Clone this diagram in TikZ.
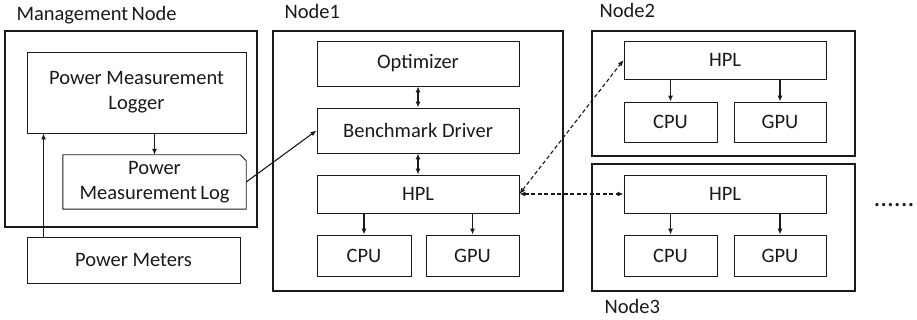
\documentclass[tikz,border=0pt]{standalone}
\usepackage{fontspec}
\setmainfont{Carlito}
\usepackage{tikz}
\usetikzlibrary{arrows.meta, calc, positioning}
\usepackage{xcolor}
\definecolor{mInk}{HTML}{1A1A1A}

\begin{document}
\begin{tikzpicture}[x=1pt, y=-1pt, >={Latex[length=6pt, width=5pt]},
    every node/.style={font=\fontsize{20.5}{25}\selectfont, text=mInk},
    hostbox/.style={draw=mInk, line width=2.5pt, inner sep=0pt},
    unitbox/.style={draw=mInk, line width=0.9pt, inner sep=0pt, align=center},
    link/.style={mInk, line width=1.1pt},
    peer/.style={mInk, line width=1.1pt, dashed, dash pattern=on 4pt off 2.5pt}]
  \useasboundingbox (0,0) rectangle (917,320);
  % management node
  \node[hostbox, minimum width=252pt, minimum height=196pt] (mgmt) at (131,129) {};
  \node[anchor=base west] (mgmtlab) at (13,21) {Management\,Node};
  \node[unitbox, minimum width=219pt, minimum height=81pt] (logger) at (136.5,92.5) {Power Measurement\\Logger};
  \node[inner sep=0pt, align=center, minimum width=183pt, minimum height=54pt] (log) at (154.5,182) {Power\\Measurement\,Log};
  \draw[mInk, line width=0.9pt] (log.south west) -- (log.north west) -- ([xshift=-6pt]log.north east)
    -- ([yshift=-6pt]log.north east) -- (log.south east) -- cycle;
  \node[unitbox, minimum width=213pt, minimum height=46pt] (meters) at (133.5,260) {Power Meters};
  \draw[link, ->] ([xshift=17pt]meters.north west) -- ([xshift=17pt]logger.south west);
  \draw[link, ->] (logger.south -| log.north) -- (log.north);
  % node1
  \node[hostbox, minimum width=290pt, minimum height=260pt] (node1) at (418,161) {};
  \node[anchor=base west] (node1lab) at (281,19) {Node1};
  \node[unitbox, minimum width=202pt, minimum height=45pt] (opt) at (418,63.5) {Optimizer};
  \node[unitbox, minimum width=202pt, minimum height=45pt] (bench) at (418,130.5) {Benchmark Driver};
  \node[unitbox, minimum width=202pt, minimum height=38pt] (hpl1) at (418,194) {HPL};
  \node[unitbox, minimum width=94pt, minimum height=41pt] (cpu1) at (364,255.5) {CPU};
  \node[unitbox, minimum width=93pt, minimum height=41pt] (gpu1) at (472.5,255.5) {GPU};
  \draw[link, <->] (opt) -- (bench);
  \draw[link, <->] (bench) -- (hpl1);
  \draw[link, ->] (hpl1.south -| cpu1.north) -- (cpu1.north);
  \draw[link, ->] (hpl1.south -| gpu1.north) -- (gpu1.north);
  \draw[link, ->] (log.east) -- (bench.west);
  % node2
  \node[hostbox, minimum width=263pt, minimum height=125pt] (node2) at (723.5,93.5) {};
  \node[anchor=base west] (node2lab) at (596,18) {Node2};
  \node[unitbox, minimum width=202pt, minimum height=38pt] (hpl2) at (725,60) {HPL};
  \node[unitbox, minimum width=93pt, minimum height=40pt] (cpu2) at (670.5,122) {CPU};
  \node[unitbox, minimum width=92pt, minimum height=40pt] (gpu2) at (780,122) {GPU};
  \draw[link, ->] (hpl2.south -| cpu2.north) -- (cpu2.north);
  \draw[link, ->] (hpl2.south -| gpu2.north) -- (gpu2.north);
  % node3
  \node[hostbox, minimum width=263pt, minimum height=127pt] (node3) at (723.5,227.5) {};
  \node[anchor=base west] (node3lab) at (601,313) {Node3};
  \node[unitbox, minimum width=202pt, minimum height=38pt] (hpl3) at (725,194) {HPL};
  \node[unitbox, minimum width=93pt, minimum height=41pt] (cpu3) at (670.5,255.5) {CPU};
  \node[unitbox, minimum width=92pt, minimum height=41pt] (gpu3) at (780,255.5) {GPU};
  \draw[link, ->] (hpl3.south -| cpu3.north) -- (cpu3.north);
  \draw[link, ->] (hpl3.south -| gpu3.north) -- (gpu3.north);
  % mpi links
  \draw[peer, <->] (hpl1.east) -- (hpl2.west);
  \draw[peer, <->] (hpl1.east) -- (hpl3.west);
  \node[anchor=base, font=\fontsize{27}{30}\selectfont] (more) at (894,207) {......};
\end{tikzpicture}
\end{document}
